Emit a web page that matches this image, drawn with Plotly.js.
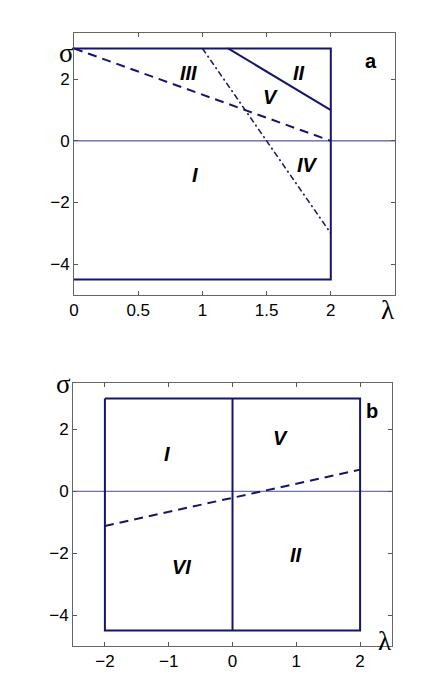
<!DOCTYPE html>
<html>
<head>
<meta charset="utf-8">
<script src="https://cdn.plot.ly/plotly-3.0.1.min.js"></script>
<style>
  html, body { margin: 0; padding: 0; background: #fff; }
  #plot { width: 436px; height: 693px; }
</style>
</head>
<body>
<div id="plot"></div>
<script>
// panel a
const boxAX = [0, 2, 2, 0];
const boxAY = [3, 3, -4.5, -4.5];
const solidAX = [1.2, 2];
const solidAY = [3, 1];
const dashAX = [0, 2];
const dashAY = [3, 0];
const dotAX = [1.0, 2];
const dotAY = [3, -3];
const labelsA = ['III', 'II', 'V', 'IV', 'I'];
const labelsAX = [0.89, 1.75, 1.53, 1.82, 0.94];
const labelsAY = [2.2, 2.2, 1.42, -0.78, -1.12];

// panel b
const boxBX = [-2, 2, 2, -2, -2];
const boxBY = [3, 3, -4.5, -4.5, 3];
const midBX = [0, 0];
const midBY = [3, -4.5];
const dashBX = [-2, 2];
const dashBY = [-1.12, 0.7];
const labelsB = ['I', 'V', 'VI', 'II'];
const labelsBX = [-1.03, 0.75, -0.8, 0.99];
const labelsBY = [1.2, 1.72, -2.45, -2.05];

const navy = '#15166b';
const font = 'Liberation Sans, Arial, sans-serif';
const greek = 'Liberation Serif, Times New Roman, serif';

function line(x, y, dash, ax, w) {
  return {
    x: x, y: y, mode: 'lines', type: 'scatter',
    xaxis: ax.x, yaxis: ax.y, hoverinfo: 'skip',
    line: { color: navy, width: w || 2, dash: dash || 'solid' }
  };
}

const A = { x: 'x', y: 'y' };
const B = { x: 'x2', y: 'y2' };

const data = [
  line([0, 2.5], [0, 0], 'solid', A, 1),
  line(boxAX, boxAY, 'solid', A),
  line(solidAX, solidAY, 'solid', A),
  line(dashAX, dashAY, '9px,6px', A),
  line(dotAX, dotAY, '6px,3px,2px,3px', A, 1.6),
  line([-2.5, 2.5], [0, 0], 'solid', B, 1),
  line(boxBX, boxBY, 'solid', B),
  line(midBX, midBY, 'solid', B),
  line(dashBX, dashBY, '9px,6px', B)
];
data[0].line.color = '#2b2b8a';
data[5].line.color = '#4a4aa0';

function axis(domain, anchor, range, tickvals) {
  return {
    domain: domain, anchor: anchor, range: range,
    tickvals: tickvals, ticks: 'inside', ticklen: 4, tickcolor: '#555',
    showline: true, linecolor: '#666', linewidth: 1, mirror: 'ticks',
    showgrid: false, zeroline: false,
    tickfont: { family: font, size: 17, color: '#000' }
  };
}

function label(t, x, y, xref, yref) {
  return {
    text: '<b><i>' + t + '</i></b>', x: x, y: y,
    xref: xref, yref: yref, showarrow: false,
    font: { family: font, size: 20, color: '#000' }
  };
}

function sym(t, px, py) {
  return {
    text: t, x: px / 436, y: 1 - py / 693, xref: 'paper', yref: 'paper',
    showarrow: false, font: { family: greek, size: 27, color: '#000' }
  };
}

const annotations = [];
labelsA.forEach((t, i) => annotations.push(label(t, labelsAX[i], labelsAY[i], 'x', 'y')));
labelsB.forEach((t, i) => annotations.push(label(t, labelsBX[i], labelsBY[i], 'x2', 'y2')));
annotations.push(
  { text: '<b>a</b>', x: 2.31, y: 2.6, xref: 'x', yref: 'y', showarrow: false,
    font: { family: font, size: 20, color: '#000' } },
  { text: '<b>b</b>', x: 2.18, y: 2.6, xref: 'x2', yref: 'y2', showarrow: false,
    font: { family: font, size: 20, color: '#000' } },
  sym('σ', 57, 36),
  sym('λ', 396, 310),
  sym('σ', 54, 384),
  sym('λ', 393, 658)
);

const layout = {
  width: 436, height: 693,
  margin: { l: 0, r: 0, t: 0, b: 0 },
  showlegend: false,
  paper_bgcolor: '#fff', plot_bgcolor: '#fff',
  xaxis: axis([74 / 436, 395 / 436], 'y', [0, 2.5], [0, 0.5, 1, 1.5, 2]),
  yaxis: axis([1 - 295 / 693, 1 - 33 / 693], 'x', [-5, 3.5], [-4, -2, 0, 2]),
  xaxis2: axis([73 / 436, 392 / 436], 'y2', [-2.5, 2.5], [-2, -1, 0, 1, 2]),
  yaxis2: axis([1 - 646 / 693, 1 - 383 / 693], 'x2', [-5, 3.5], [-4, -2, 0, 2]),
  annotations: annotations
};

Plotly.newPlot('plot', data, layout, { displayModeBar: false, staticPlot: true });
</script>
</body>
</html>
